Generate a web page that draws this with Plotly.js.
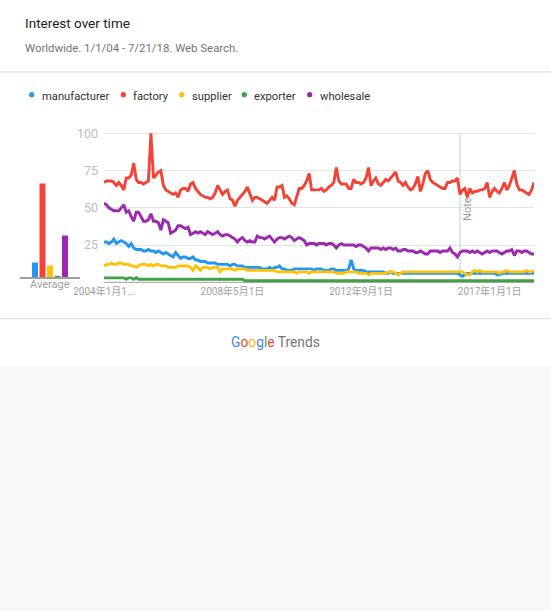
<!DOCTYPE html>
<html>
<head>
<meta charset="utf-8">
<script src="https://cdn.plot.ly/plotly-3.0.1.min.js"></script>
<style>
  html, body { margin: 0; padding: 0; background: #fff; }
  #chart { width: 551px; height: 611px; }
</style>
</head>
<body>
<div id="chart"></div>
<script>
// ---- data ----
const terms = ['manufacturer', 'factory', 'supplier', 'exporter', 'wholesale'];
const termColors = ['#2196F3', '#F44336', '#FFC107', '#43A047', '#9C27B0'];
const averages = [10, 63, 8, 1, 28];

// monthly, Jan 2004 .. Jul 2018 (175 months)
const manufacturer = [
  27,27,26,27,29,26,27,28,27,26,24,26,
  23,22,22,22,21,21,22,21,21,20,21,20,
  19,20,19,18,17,20,18,16,17,17,16,16,
  17,15,15,14,14,14,13,13,13,13,12,12,
  12,12,12,11,12,12,11,11,11,10,10,10,
  10,10,10,10,9,9,9,10,9,10,10,11,
  9,9,8,8,8,9,9,9,9,9,9,9,
  9,8,9,9,9,8,8,8,9,9,8,8,
  8,8,8,9,15,9,8,8,8,8,7,7,
  7,7,7,7,7,7,6,6,7,6,6,6,
  6,6,6,6,6,6,6,6,6,6,6,6,
  6,6,6,6,6,6,6,6,6,6,6,6,
  5,4,5,6,6,6,6,6,6,6,6,6,
  6,6,6,5,5,6,6,6,6,6,6,6,
  6,6,6,6,6,6,6
];
const factory = [
  67,68,68,68,67,65,67,65,62,70,70,72,
  80,69,67,67,66,67,68,100,70,72,74,75,
  65,62,61,60,59,60,57,62,63,63,61,66,
  67,63,61,59,58,57,57,56,57,60,65,62,
  59,61,62,56,55,51,55,57,59,61,64,60,
  55,57,57,56,55,54,53,55,57,55,64,64,
  65,57,58,56,53,52,58,63,63,65,68,73,
  62,62,62,62,63,61,62,64,65,67,77,68,
  66,66,66,63,63,69,67,67,66,67,70,77,
  65,68,70,66,65,67,69,68,70,72,74,68,
  67,65,67,64,62,63,66,71,61,66,73,75,
  69,67,66,65,64,63,63,67,67,68,68,70,
  59,62,63,57,63,60,61,61,62,62,63,67,
  57,61,63,61,60,63,67,62,65,70,75,66,
  62,62,61,60,59,62,67
];
const supplier = [
  11,12,12,13,12,12,13,13,12,12,12,11,
  11,10,11,12,12,12,11,12,11,12,12,11,
  11,11,10,10,10,10,11,11,11,11,11,10,
  8,11,10,8,10,10,10,9,10,10,10,7,
  9,9,9,9,9,8,9,9,9,9,8,8,
  8,8,8,8,8,8,8,8,8,8,7,7,
  7,7,7,7,7,7,6,7,7,7,7,6,
  7,7,7,7,7,7,7,7,7,7,6,6,
  6,6,7,7,7,7,7,6,6,6,6,5,
  6,6,6,6,6,6,6,7,7,7,6,5,
  6,7,7,7,7,7,7,7,7,7,7,7,
  7,7,7,7,7,7,7,7,7,7,7,7,
  7,7,6,5,5,7,8,7,8,7,7,7,
  7,7,7,7,6,7,7,8,7,7,7,7,
  7,7,7,8,7,7,8
];
const exporter = [
  3,3,3,3,3,3,3,3,3,2,3,3,
  2,3,2,2,2,2,2,2,2,2,2,2,
  2,2,2,2,2,2,2,2,2,2,2,2,
  2,2,2,2,2,2,2,2,2,2,2,2,
  2,2,2,2,2,2,2,2,2,1,1,1,
  1,1,1,1,1,1,1,1,1,1,1,1,
  1,1,1,1,1,1,1,1,1,1,1,1,
  1,1,1,1,1,1,1,1,1,1,1,1,
  1,1,1,1,1,1,1,1,1,1,1,1,
  1,1,1,1,1,1,1,1,1,1,1,1,
  1,1,1,1,1,1,1,1,1,1,1,1,
  1,1,1,1,1,1,1,1,1,1,1,1,
  1,1,1,1,1,1,1,1,1,1,1,1,
  1,1,1,1,1,1,1,1,1,1,1,1,
  1,1,1,1,1,1,1
];
const wholesale = [
  53,52,50,49,48,48,48,50,52,47,48,44,
  41,47,47,44,41,41,42,46,41,41,40,35,
  42,41,40,33,34,35,38,38,37,36,37,32,
  33,34,33,34,33,32,34,33,32,33,34,32,
  31,32,32,31,30,29,27,29,30,28,27,28,
  27,27,31,30,30,29,30,31,29,27,29,30,
  30,29,30,31,30,28,29,30,29,28,25,26,
  26,26,25,26,26,26,25,26,26,25,23,25,
  26,25,25,25,25,25,24,25,25,24,23,21,
  23,23,23,23,22,23,22,23,23,22,23,21,
  21,22,22,21,21,21,20,20,21,20,19,19,
  21,21,21,21,20,21,21,21,23,20,19,17,
  20,21,21,21,20,21,20,21,20,19,20,21,
  20,21,21,21,20,19,20,21,21,22,18,21,
  21,20,21,21,20,19,19
];
const xTickDates = ['2004-01-01', '2008-05-01', '2012-09-01', '2017-01-01'];
const xTickLabels = ['2004年1月1...', '2008年5月1日', '2012年9月1日', '2017年1月1日'];
const yTickValues = [25, 50, 75, 100];
const noteDate = '2016-01-01';

// month categories
const months = [];
for (let i = 0; i < factory.length; i++) {
  const y = 2004 + Math.floor(i / 12), m = (i % 12) + 1;
  months.push(y + '-' + (m < 10 ? '0' + m : m) + '-01');
}

// ---- helpers (pixel -> paper) ----
const W = 551, H = 611;
const px = x => x / W;
const py = y => 1 - y / H;
const FONT = 'Roboto, "Noto Sans CJK JP", Arial, sans-serif';

const series = [manufacturer, factory, supplier, exporter, wholesale];
const traces = series.map((vals, i) => ({
  type: 'scatter', mode: 'lines', x: months, y: vals, name: terms[i],
  line: { color: termColors[i], width: 2.9 }, xaxis: 'x', yaxis: 'y',
  hoverinfo: 'skip'
}));
traces.push({
  type: 'bar', x: [0, 1, 2, 3, 4], y: averages, xaxis: 'x2', yaxis: 'y2',
  marker: { color: termColors }, width: 0.8, hoverinfo: 'skip'
});

// legend
const legendX = [31.7, 123.3, 181.7, 244.3, 309.7];
const shapes = [
  { type: 'rect', xref: 'paper', yref: 'paper', x0: 0, x1: 1, y0: 0, y1: py(365.7),
    fillcolor: '#f8f8f8', line: { width: 0 }, layer: 'below' },
  { type: 'line', xref: 'paper', yref: 'paper', x0: 0, x1: 1, y0: py(71.8), y1: py(71.8),
    line: { color: '#e0e0e0', width: 1.2 } },
  { type: 'line', xref: 'paper', yref: 'paper', x0: 0, x1: 1, y0: py(318.6), y1: py(318.6),
    line: { color: '#e0e0e0', width: 1.2 } },
  // baseline of main chart
  { type: 'line', xref: 'paper', yref: 'y', x0: px(104), x1: px(534), y0: 0, y1: 0,
    line: { color: '#9e9e9e', width: 1 }, layer: 'below' },
  // note line
  { type: 'line', xref: 'x', yref: 'y', x0: noteDate, x1: noteDate, y0: -0.5, y1: 100,
    line: { color: '#dddddd', width: 1.5 }, layer: 'below' }
];
const annotations = [
  { text: 'Interest over time', xref: 'paper', yref: 'paper', x: px(22.5), y: py(23),
    xanchor: 'left', yanchor: 'middle', showarrow: false,
    font: { family: FONT, size: 13.5, color: '#212121' } },
  { text: 'Worldwide. 1/1/04 - 7/21/18. Web Search.', xref: 'paper', yref: 'paper',
    x: px(22.5), y: py(48), xanchor: 'left', yanchor: 'middle', showarrow: false,
    font: { family: FONT, size: 11.4, color: '#757575' } },
  { text: 'Average', xref: 'paper', yref: 'paper', x: px(50), y: py(285),
    xanchor: 'center', yanchor: 'middle', showarrow: false,
    font: { family: FONT, size: 11, color: '#9e9e9e' } },
  { text: 'Note', xref: 'x', yref: 'paper', x: noteDate, y: py(209), xshift: 7,
    xanchor: 'center', yanchor: 'middle', textangle: -90, showarrow: false,
    font: { family: FONT, size: 11, color: '#9e9e9e' } },
  { text: '<span style="color:#4285F4">G</span><span style="color:#EA4335">o</span><span style="color:#FBBC05">o</span><span style="color:#4285F4">g</span><span style="color:#34A853">l</span><span style="color:#EA4335">e</span> <span style="color:#757575">Trends</span>',
    xref: 'paper', yref: 'paper', x: px(275), y: py(341.5), xanchor: 'center', yanchor: 'middle',
    showarrow: false, font: { family: FONT, size: 13.8, color: '#757575' } }
];
terms.forEach((t, i) => {
  shapes.push({ type: 'circle', xref: 'paper', yref: 'paper',
    x0: px(legendX[i] - 2.6), x1: px(legendX[i] + 2.6), y0: py(94.7 + 2.6), y1: py(94.7 - 2.6),
    fillcolor: termColors[i], line: { width: 0 } });
  annotations.push({ text: t, xref: 'paper', yref: 'paper', x: px(legendX[i] + 8), y: py(96),
    xanchor: 'left', yanchor: 'middle', showarrow: false,
    font: { family: FONT, size: 11.2, color: '#333333' } });
});

const yBottom = 282.3 + 0.5 * 1.49, yTop = 282.3 - 102 * 1.49;
const layout = {
  width: W, height: H, margin: { l: 0, r: 0, t: 0, b: 0, pad: 0 },
  paper_bgcolor: '#ffffff', plot_bgcolor: 'rgba(0,0,0,0)', showlegend: false,
  font: { family: FONT },
  xaxis: {
    type: 'date', domain: [px(104), px(534)], range: ['2004-01-01', '2018-07-01'],
    tickvals: xTickDates, ticktext: xTickLabels, ticks: '', showgrid: false, zeroline: false,
    showline: false, tickfont: { family: FONT, size: 10, color: '#9e9e9e' }, anchor: 'y',
    ticklabelstandoff: 1, fixedrange: true
  },
  yaxis: {
    domain: [py(yBottom), py(yTop)], range: [-0.5, 102], tickvals: yTickValues,
    showgrid: true, gridcolor: '#e3e3e3', gridwidth: 1, zeroline: false, showline: false,
    ticks: '', tickfont: { family: FONT, size: 12.5, color: '#bdbdbd' }, ticklabelstandoff: 5,
    anchor: 'x', fixedrange: true
  },
  xaxis2: {
    domain: [px(20), px(80)], range: [-2, 6], showline: true, linecolor: '#9e9e9e', linewidth: 1.5,
    showticklabels: false, ticks: '', showgrid: false, zeroline: false, anchor: 'y2', fixedrange: true
  },
  yaxis2: {
    domain: [py(277.3), py(277.3 - 149)], range: [0, 100], visible: false, anchor: 'x2', fixedrange: true
  },
  bargap: 0.2,
  shapes: shapes,
  annotations: annotations
};

Plotly.newPlot('chart', traces, layout, { staticPlot: true, displayModeBar: false });
</script>
</body>
</html>
